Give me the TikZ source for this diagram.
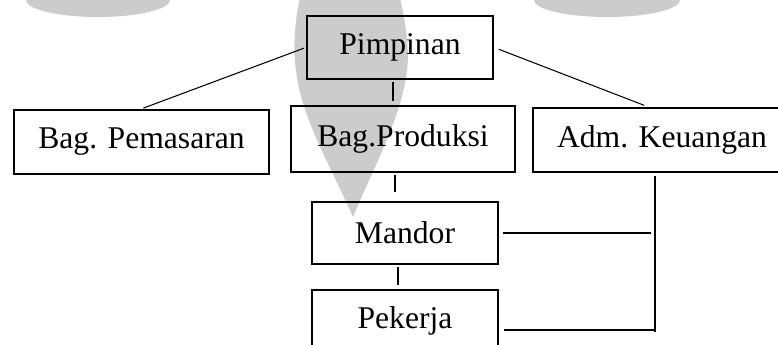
\documentclass[tikz,border=0pt]{standalone}
\usepackage{fontspec}
\setmainfont{Liberation Serif}
\usepackage{tikz}
\usetikzlibrary{positioning, shapes, arrows.meta}
\definecolor{wmgray}{RGB}{204,204,204}
\tikzset{>=latex,
    unit/.style={draw, line width=1.35pt, inner sep=0pt, minimum height=1.28cm, font=\fontsize{18}{21}\selectfont},
    link/.style={line width=0.6pt}
}

\begin{document}
\begin{tikzpicture}
    \useasboundingbox (0,0) rectangle (15.56,6.9);
    \clip (0,0) rectangle (15.56,6.9);
    % watermark behind the chart
    \fill[wmgray] (1.96,6.9) ellipse [x radius=1.44, y radius=0.34];
    \fill[wmgray] (12.14,6.9) ellipse [x radius=1.46, y radius=0.34];
    \fill[wmgray] (6.0,6.95) .. controls (5.9,6.5) and (5.85,5.9) .. (5.92,5.5)
        .. controls (6.0,4.6) and (6.65,3.5) .. (7.06,2.56)
        .. controls (7.45,3.5) and (8.05,4.6) .. (8.14,5.5)
        .. controls (8.2,5.9) and (8.1,6.5) .. (8.0,6.95) -- cycle;

    \node[unit, minimum width=3.72cm, minimum height=1.26cm] (pimpinan) at (8.0,5.95) {Pimpinan};
    \node[unit, minimum width=5.10cm] (pemasaran) at (2.83,4.06) {Bag. Pemasaran};
    \node[unit, minimum width=4.48cm, minimum height=1.32cm] (produksi) at (8.06,4.12) {Bag.Produksi};
    \node[unit, minimum width=5.16cm] (adm) at (13.24,4.10) {Adm. Keuangan};
    \node[unit, minimum width=3.72cm, minimum height=1.24cm] (mandor) at (8.10,2.24) {Mandor};
    \node[unit, minimum width=3.72cm, minimum height=1.24cm] (pekerja) at (8.10,0.48) {Pekerja};

    \coordinate (drop) at ([xshift=-0.14cm]adm.south);
    \coordinate (foot) at ([yshift=-0.18cm]drop |- pekerja.east);

    \draw[link, shorten <=0.04cm, shorten >=0.04cm] (pimpinan.west) -- (pemasaran.north);
    \draw[link, shorten <=0.1cm, shorten >=0.08cm] (pimpinan.east) -- ([xshift=-0.28cm]adm.north);
    \draw[link, shorten <=0.03cm, shorten >=0.08cm] ([xshift=-0.14cm]pimpinan.south) -- ([xshift=-0.14cm]pimpinan.south |- produksi.north);
    \draw[link, shorten <=0.04cm, shorten >=0.18cm] ([xshift=-0.16cm]produksi.south) -- ([xshift=-0.16cm]produksi.south |- mandor.north);
    \draw[link, shorten <=0.03cm, shorten >=0.08cm] ([xshift=-0.14cm]mandor.south) -- ([xshift=-0.14cm]mandor.south |- pekerja.north);
    \draw[link, shorten <=0.06cm, shorten >=-0.04cm] (drop) -- (foot);
    \draw[link, shorten <=0.08cm, shorten >=0.08cm] (mandor.east) -- (mandor.east -| drop);
    \draw[link, shorten <=0.1cm] (pekerja.east |- foot) -- (foot);
\end{tikzpicture}
\end{document}
